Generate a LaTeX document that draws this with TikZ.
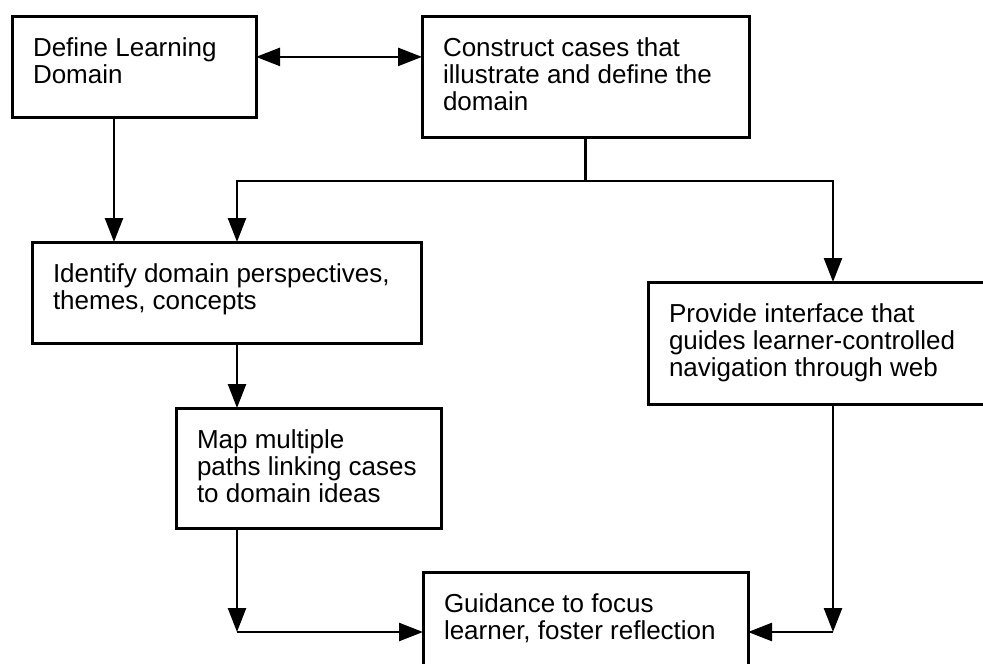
\documentclass[tikz,border=0pt]{standalone}
\usepackage{fontspec}
\setmainfont{Liberation Sans}
\usepackage{tikz}
\usetikzlibrary{
	arrows.meta
}

% texto alinhado no topo da caixa
\newcommand{\caixa}[3]{\parbox[t][#2][t]{#1}{\raggedright\strut #3}}

\begin{document}
\begin{tikzpicture}[
			x=1pt, y=-1pt,
			font=\fontsize{26}{27}\selectfont,
			etapa/.style={draw, line width=3pt, anchor=north west, outer sep=0pt, inner xsep=21pt, inner ysep=22pt},
			>={Triangle[length=24pt, width=18pt]},
			linha/.style={line width=2.5pt},
			seta/.style={->, line width=2.5pt}
		]
		\useasboundingbox (0,0) rectangle (983,664);

		\node[etapa] (domain) at (12,16) {\caixa{202pt}{57pt}{Define Learning\\ Domain}};
		\node[etapa] (cases) at (422,16) {\caixa{285pt}{77pt}{Construct cases that\\ illustrate and define the\\ domain}};
		\node[etapa] (themes) at (32,242) {\caixa{347pt}{57pt}{Identify domain perspectives,\\ themes, concepts}};
		\node[etapa] (paths) at (176,408) {\caixa{223pt}{76pt}{Map multiple\\ paths linking cases\\ to domain ideas}};
		\node[etapa] (interface) at (648,282) {\caixa{320pt}{78pt}{Provide interface that\\ guides learner-controlled\\ navigation through web}};
		\node[etapa] (guidance) at (423,572) {\caixa{283pt}{76pt}{Guidance to focus\\ learner, foster reflection}};

		\coordinate (ramoL) at (237,181);
		\coordinate (ramoR) at (833,181);
		\coordinate (juncao) at (cases.south |- ramoL);
		\coordinate (cantoL) at (ramoL |- guidance.west);
		\coordinate (cantoR) at (ramoR |- guidance.east);

		\draw[seta, <->] (domain.base east) -- (cases.base west);
		\draw[seta] ([xshift=-20pt]domain.south) -- ([xshift=-20pt]domain.south |- themes.north);
		\draw[linha] (cases.south) -- (juncao);
		\draw[seta] (juncao) -| (ramoL |- themes.north);
		\draw[seta] (juncao) -| (ramoR |- interface.north);
		\draw[seta] (ramoL |- themes.south) -- (ramoL |- paths.north);
		\draw[seta] (ramoL |- paths.south) -- (cantoL);
		\draw[seta] (cantoL) -- (guidance.west);
		\draw[seta] (ramoR |- interface.south) -- (cantoR);
		\draw[seta] (cantoR) -- (guidance.east);
	\end{tikzpicture}
\end{document}
